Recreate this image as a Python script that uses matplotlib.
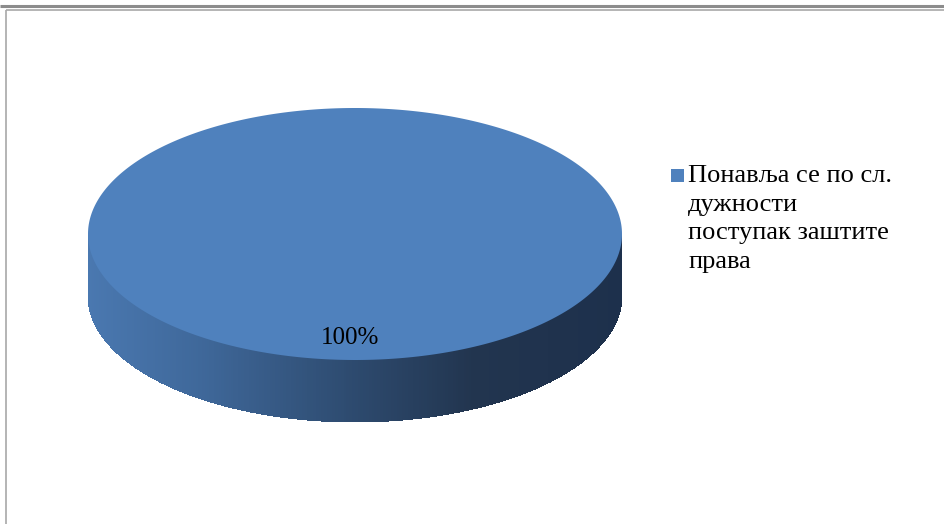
"3d-looking pie with a single slice, drawn with patches"
import numpy as np
import matplotlib
matplotlib.use("Agg")
from matplotlib import pyplot as plt
from matplotlib.patches import Polygon, Rectangle

labels = ["Понавља се по сл.\nдужности\nпоступак заштите\nправа"]
values = [100]
colors = ["#4F81BD"]

W, H = 945, 524
CX, CY = 355, 234      # centre of the top ellipse (px)
RX, RY = 267, 126
DEPTH = 62

plt.rcParams['font.family'] = ['Liberation Serif', 'DejaVu Serif']

fig = plt.figure(figsize=(W/100, H/100), dpi=100)
ax = fig.add_axes([0, 0, 1, 1])
ax.set_xlim(0, W)
ax.set_ylim(H, 0)
ax.axis('off')

# frame lines of the page
ax.plot([0, W], [5.5, 5.5], color="#8c8c8c", lw=2.2, solid_capstyle='butt')
ax.plot([5.5, W], [9.5, 9.5], color="#a8a8a8", lw=1.2, solid_capstyle='butt')
ax.plot([5.5, 5.5], [9.5, H], color="#a8a8a8", lw=1.2, solid_capstyle='butt')

def ell(a):
    return CX + RX*np.cos(a), CY + RY*np.sin(a)

# shading of the side wall, left -> right
_ts = [0.0, 0.21, 0.5, 0.72, 1.0]
_cs = np.array([[74, 120, 176], [63, 104, 154], [45, 74, 110], [34, 53, 79], [29, 48, 76]]) / 255

def side_color(x):
    t = np.clip((x - (CX - RX)) / (2*RX), 0, 1)
    return [np.interp(t, _ts, _cs[:, k]) for k in range(3)]

total = float(sum(values))
start = 0.0
for v, col, lab in zip(values, colors, labels):
    a0 = start
    a1 = start + 2*np.pi*v/total
    start = a1
    # side wall, only the front half (sin > 0 in screen coords) is seen
    ang = np.linspace(a0, a1, 600)
    for p, q in zip(ang[:-1], ang[1:]):
        if np.sin(p) <= 0 and np.sin(q) <= 0:
            continue
        x0, y0 = ell(p)
        x1, y1 = ell(q)
        ax.add_patch(Polygon([(x0, y0), (x1, y1), (x1, y1+DEPTH), (x0, y0+DEPTH)],
                             closed=True, fc=side_color((x0+x1)/2), ec='none',
                             lw=0, antialiased=False))
    # top face
    xs, ys = ell(ang)
    pts = list(zip(xs, ys))
    if v < total:
        pts = [(CX, CY)] + pts
    ax.add_patch(Polygon(pts, closed=True, fc=col, ec='none'))
    # percentage label
    mid = (a0 + a1) / 2
    lx, ly = (CX - 5, CY + 104) if v == total else ell(mid)
    ax.text(lx, ly, f"{v/total*100:.0f}%", fontsize=18, ha='center', va='center',
            color='black')

# legend
ly = 175.5
for lab, col in zip(labels, colors):
    ax.add_patch(Rectangle((671, ly - 6.5), 13, 13, fc=col, ec='none'))
    ax.text(688, ly - 10, lab, fontsize=19, ha='left', va='top',
            linespacing=1.38, color='black')
    ly += 120

fig.savefig("out.png", dpi=100)
